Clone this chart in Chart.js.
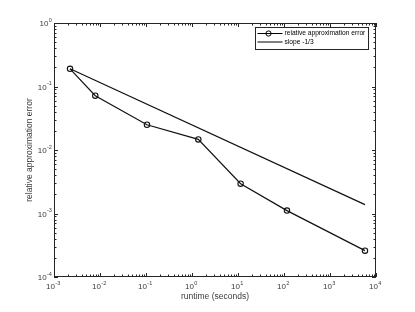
<!DOCTYPE html>
<html>
<head>
<meta charset="utf-8">
<script src="https://cdn.jsdelivr.net/npm/chart.js@4/dist/chart.umd.min.js"></script>
<style>
  html, body { margin: 0; padding: 0; background: #fff; }
</style>
</head>
<body>
<canvas id="grafico" width="415" height="312"></canvas>
<script>
'use strict';

// values
const runtime  = [0.00223, 0.0079, 0.105, 1.37, 11.4, 116, 5760];
const relError = [0.19, 0.0716, 0.025, 0.0147, 0.00295, 0.00111, 0.00026];
const slopeX   = [0.00223, 5760];
const slopeY   = [0.19, 0.00138];

// axis decades (tick labels are 10^exp)
const xExp = [-3, -2, -1, 0, 1, 2, 3, 4];
const yExp = [-4, -3, -2, -1, 0];

const seriesLabels = ['relative approximation error', 'slope -1/3'];
const xTitle = 'runtime (seconds)';
const yTitle = 'relative approximation error';

const FONT = "'Liberation Sans', Arial, Helvetica, sans-serif";
const AXIS_COLOR = '#262626';
const TEXT_COLOR = '#3a3a3a';

function drawPow(ctx, exp, x, y, align) {
  const base = '10', sup = String(exp);
  ctx.font = '8px ' + FONT;
  const wb = ctx.measureText(base).width;
  ctx.font = '5.5px ' + FONT;
  const ws = ctx.measureText(sup).width;
  let left = x;
  if (align === 'center') left = x - (wb + ws) / 2;
  else if (align === 'right') left = x - wb - ws;
  ctx.textAlign = 'left';
  ctx.textBaseline = 'middle';
  ctx.font = '8px ' + FONT;
  ctx.fillText(base, left, y);
  ctx.font = '5.5px ' + FONT;
  ctx.fillText(sup, left + wb + 0.3, y - 4);
}

// MATLAB style box, inward ticks, labels, legend
const matlabAxes = {
  id: 'matlabAxes',
  afterDraw(chart) {
    const ctx = chart.ctx;
    const a = chart.chartArea;
    const xs = chart.scales.x, ys = chart.scales.y;
    ctx.save();
    ctx.strokeStyle = AXIS_COLOR;
    ctx.lineWidth = 1;

    // box
    ctx.strokeRect(Math.round(a.left) + 0.5, Math.round(a.top) + 0.5,
      Math.round(a.right - a.left) - 1, Math.round(a.bottom - a.top) - 1);

    ctx.beginPath();
    // x ticks
    for (let i = 0; i < xExp.length; i++) {
      for (let m = 1; m <= 9; m++) {
        if (i === xExp.length - 1 && m > 1) break;
        const px = Math.round(xs.getPixelForValue(m * Math.pow(10, xExp[i]))) + 0.5;
        const len = m === 1 ? 4 : 2.5;
        ctx.moveTo(px, a.bottom); ctx.lineTo(px, a.bottom - len);
        ctx.moveTo(px, a.top); ctx.lineTo(px, a.top + len);
      }
    }
    // y ticks
    for (let i = 0; i < yExp.length; i++) {
      for (let m = 1; m <= 9; m++) {
        if (i === yExp.length - 1 && m > 1) break;
        const py = Math.round(ys.getPixelForValue(m * Math.pow(10, yExp[i]))) + 0.5;
        const len = m === 1 ? 4 : 2.5;
        ctx.moveTo(a.left, py); ctx.lineTo(a.left + len, py);
        ctx.moveTo(a.right, py); ctx.lineTo(a.right - len, py);
      }
    }
    ctx.stroke();

    // tick labels
    ctx.fillStyle = TEXT_COLOR;
    xExp.forEach(e => drawPow(ctx, e, xs.getPixelForValue(Math.pow(10, e)) - 1, a.bottom + 10, 'center'));
    yExp.forEach(e => drawPow(ctx, e, a.left - 2.5, ys.getPixelForValue(Math.pow(10, e)) + 1, 'right'));

    // axis titles
    ctx.font = '8.5px ' + FONT;
    ctx.textAlign = 'center';
    ctx.textBaseline = 'middle';
    ctx.fillText(xTitle, (a.left + a.right) / 2, a.bottom + 20);
    ctx.save();
    ctx.translate(30, (a.top + a.bottom) / 2);
    ctx.rotate(-Math.PI / 2);
    ctx.fillText(yTitle, 0, 0);
    ctx.restore();

    // legend
    const lx = 255.5, ly = 27.5, lw = 113, lh = 22;
    ctx.fillStyle = '#fff';
    ctx.fillRect(lx, ly, lw, lh);
    ctx.strokeStyle = AXIS_COLOR;
    ctx.strokeRect(lx, ly, lw, lh);
    ctx.strokeStyle = '#000';
    ctx.beginPath();
    ctx.moveTo(lx + 2, ly + 6); ctx.lineTo(lx + 27, ly + 6);
    ctx.moveTo(lx + 2, ly + 14.5); ctx.lineTo(lx + 27, ly + 14.5);
    ctx.stroke();
    ctx.beginPath();
    ctx.arc(lx + 13, ly + 6, 2.6, 0, Math.PI * 2);
    ctx.stroke();
    // shrink legend text so the longest entry fits the box
    let fs = 7;
    ctx.font = fs + 'px ' + FONT;
    const w0 = ctx.measureText(seriesLabels[0]).width;
    if (w0 > 81) fs = fs * 81 / w0;
    ctx.fillStyle = '#000';
    ctx.font = fs + 'px ' + FONT;
    ctx.textAlign = 'left';
    ctx.textBaseline = 'middle';
    ctx.fillText(seriesLabels[0], lx + 29, ly + 6);
    ctx.fillText(seriesLabels[1], lx + 29, ly + 14.5);
    ctx.restore();
  }
};

new Chart(document.getElementById('grafico').getContext('2d'), {
  type: 'line',
  data: {
    datasets: [
      {
        label: seriesLabels[0],
        data: runtime.map((x, i) => ({ x: x, y: relError[i] })),
        borderColor: '#111',
        borderWidth: 1.2,
        pointRadius: 2.7,
        pointBorderWidth: 1.1,
        pointBorderColor: '#111',
        pointBackgroundColor: 'transparent',
        tension: 0
      },
      {
        label: seriesLabels[1],
        data: slopeX.map((x, i) => ({ x: x, y: slopeY[i] })),
        borderColor: '#111',
        borderWidth: 1.2,
        pointRadius: 0,
        tension: 0
      }
    ]
  },
  options: {
    responsive: false,
    animation: false,
    layout: { padding: { top: 23, right: 39, left: 0, bottom: 0 } },
    plugins: { legend: { display: false }, tooltip: { enabled: false } },
    scales: {
      x: {
        type: 'logarithmic',
        min: Math.pow(10, xExp[0]),
        max: Math.pow(10, xExp[xExp.length - 1]),
        grid: { display: false },
        border: { display: false },
        ticks: { display: false },
        afterFit: s => { s.height = 35; }
      },
      y: {
        type: 'logarithmic',
        min: Math.pow(10, yExp[0]),
        max: Math.pow(10, yExp[yExp.length - 1]),
        grid: { display: false },
        border: { display: false },
        ticks: { display: false },
        afterFit: s => { s.width = 54; }
      }
    }
  },
  plugins: [matlabAxes]
});
</script>
</body>
</html>
